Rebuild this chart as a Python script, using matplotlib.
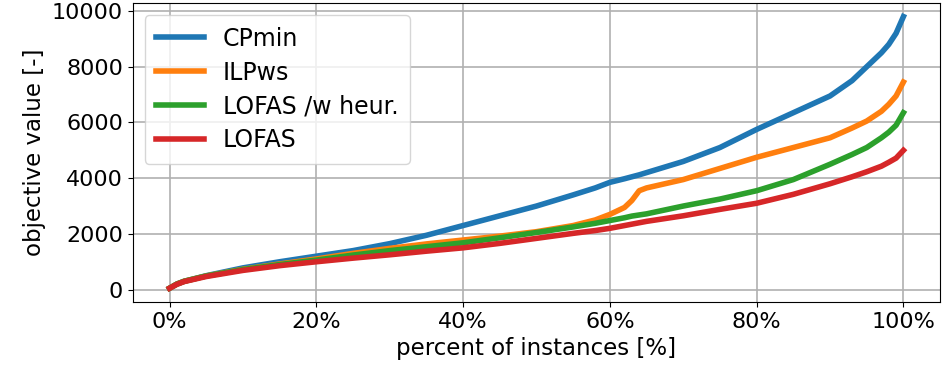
import matplotlib.pyplot as plt
from matplotlib.ticker import PercentFormatter

# percent of instances (x) and objective values
pct = [0, 1, 2, 5, 10, 15, 20, 25, 30, 35, 40, 45, 50, 55, 58, 60, 62, 63,
       64, 65, 70, 75, 80, 85, 90, 93, 95, 97, 98, 99, 100]

cpmin = [50, 200, 300, 500, 780, 1000, 1200, 1400, 1650, 1950, 2300, 2650,
         3000, 3400, 3650, 3850, 3980, 4050, 4120, 4200, 4600, 5100, 5750,
         6350, 6950, 7500, 8000, 8500, 8800, 9200, 9800]

ilpws = [50, 200, 300, 490, 730, 920, 1100, 1300, 1480, 1640, 1780, 1920,
         2080, 2300, 2500, 2700, 2950, 3200, 3550, 3650, 3950, 4350, 4750,
         5100, 5450, 5800, 6050, 6400, 6650, 6950, 7450]

lofas_h = [50, 200, 300, 490, 720, 900, 1060, 1240, 1400, 1540, 1680, 1860,
           2050, 2250, 2380, 2480, 2580, 2640, 2680, 2720, 3000, 3250, 3550,
           3950, 4500, 4850, 5100, 5450, 5650, 5900, 6350]

lofas = [50, 190, 290, 470, 690, 860, 1000, 1130, 1250, 1380, 1500, 1660,
         1840, 2020, 2120, 2200, 2300, 2350, 2400, 2450, 2650, 2880, 3100,
         3420, 3800, 4050, 4230, 4430, 4570, 4720, 5000]

plt.rcParams['font.size'] = 16
fig, ax = plt.subplots(figsize=(9.42, 3.74), dpi=100)

ax.plot(pct, cpmin, lw=4, label="CPmin")
ax.plot(pct, ilpws, lw=4, label="ILPws")
ax.plot(pct, lofas_h, lw=4, label="LOFAS /w heur.")
ax.plot(pct, lofas, lw=4, label="LOFAS")

ax.xaxis.set_major_formatter(PercentFormatter(decimals=0))
ax.set_xticks([0, 20, 40, 60, 80, 100])
ax.set_yticks([0, 2000, 4000, 6000, 8000, 10000])
ax.grid(True, color='#b0b0b0', lw=1.2)
ax.set_xlabel("percent of instances [%]", fontsize=16.5)
ax.set_ylabel("objective value [-]", fontsize=16.5)
ax.legend(loc='upper left', fontsize=17, handlelength=2.0,
          labelspacing=0.42, borderpad=0.5)

plt.subplots_adjust(left=0.141, right=0.998, top=0.992, bottom=0.193)
plt.savefig("out.png")
